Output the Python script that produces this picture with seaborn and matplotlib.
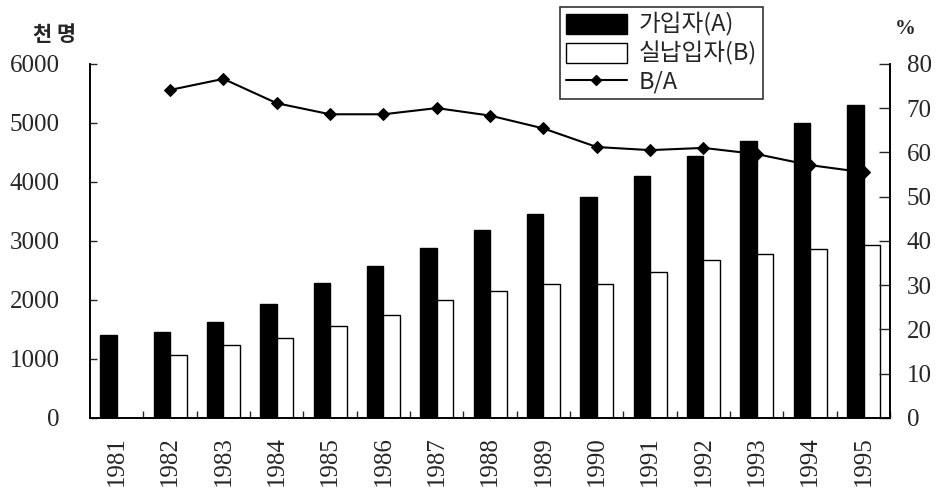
import numpy as np
import pandas as pd
import matplotlib
matplotlib.use('Agg')
import matplotlib.pyplot as plt
import seaborn as sns
from matplotlib.patches import Patch
from matplotlib.lines import Line2D
from matplotlib.ticker import MultipleLocator

# Data
years = [str(y) for y in range(1981, 1996)]
subscribers = [1400, 1460, 1620, 1930, 2280, 2570, 2880, 3180, 3460, 3750, 4100, 4430, 4700, 5000, 5300]
payers = [np.nan, 1070, 1230, 1360, 1560, 1750, 2000, 2150, 2270, 2270, 2480, 2680, 2780, 2870, 2930]
ratio = [np.nan, 74.1, 76.6, 71.1, 68.6, 68.6, 70.0, 68.3, 65.4, 61.2, 60.5, 61.0, 59.6, 57.1, 55.5]

label_a = '가입자(A)'
label_b = '실납입자(B)'
label_r = 'B/A'

sns.set_style('white')
plt.rcParams['font.family'] = ['Liberation Serif', 'Noto Sans CJK KR', 'DejaVu Sans']

bars = pd.DataFrame({
    'year': years * 2,
    'value': subscribers + payers,
    'series': [label_a] * len(years) + [label_b] * len(years),
})

fig = plt.figure(figsize=(9.48, 4.91), dpi=100)
ax = fig.add_axes([0.095, 0.149, 0.844, 0.721])

sns.barplot(data=bars, x='year', y='value', hue='series', order=years,
            palette=['black', 'white'], edgecolor='black', linewidth=1.0,
            width=0.62, ax=ax, legend=False)

ax2 = ax.twinx()
line = pd.DataFrame({'pos': np.arange(len(years)), 'ratio': ratio}).dropna()
sns.lineplot(data=line, x='pos', y='ratio', color='black', linewidth=1.5,
             marker='D', markersize=6, markeredgecolor='black', ax=ax2)

ax.set_xlim(-0.5, len(years) - 0.5)
ax.set_ylim(0, 6000)
ax2.set_ylim(0, 80)
ax.yaxis.set_major_locator(MultipleLocator(1000))
ax2.yaxis.set_major_locator(MultipleLocator(10))

ax.set_xlabel('')
ax.set_ylabel('')
ax2.set_xlabel('')
ax2.set_ylabel('')

for a in (ax, ax2):
    a.spines['top'].set_visible(False)
    for s in ('left', 'right', 'bottom'):
        a.spines[s].set_color('black')
        a.spines[s].set_linewidth(1.2)

ax.set_xticks(range(len(years)))
ax.set_xticklabels(years, rotation=90, fontsize=18)
ax.set_xticks(np.arange(len(years)) + 0.5, minor=True)
ax.tick_params(axis='x', which='major', length=0, pad=13)
ax.tick_params(axis='x', which='minor', direction='in', length=5, width=1, bottom=True)
ax.tick_params(axis='y', direction='in', length=5, width=1, labelsize=18, pad=22, left=True)
ax2.tick_params(axis='y', direction='in', length=8, width=1, labelsize=18, pad=12, right=True)

fig.text(0.058, 0.93, '천 명', fontsize=15, ha='center', va='center',
         family=['Noto Sans CJK KR', 'DejaVu Sans'], fontweight='bold')
fig.text(0.955, 0.94, '%', fontsize=15, ha='center', va='center', fontweight='bold')

handles = [
    Patch(facecolor='black', edgecolor='black', label=label_a),
    Patch(facecolor='white', edgecolor='black', label=label_b),
    Line2D([0], [0], color='black', marker='D', markersize=5, linewidth=1.5, label=label_r),
]
leg = fig.legend(handles=handles, loc='upper left', bbox_to_anchor=(0.578, 1.01),
                 frameon=True, fancybox=False, handlelength=2.6, handleheight=0.9,
                 borderpad=0.25, labelspacing=0.2, handletextpad=0.5,
                 prop={'family': ['Noto Sans CJK KR', 'DejaVu Sans'], 'size': 17})
leg.get_frame().set_edgecolor('black')
leg.get_frame().set_linewidth(1.2)

fig.savefig('out.png', dpi=100, facecolor='white')
